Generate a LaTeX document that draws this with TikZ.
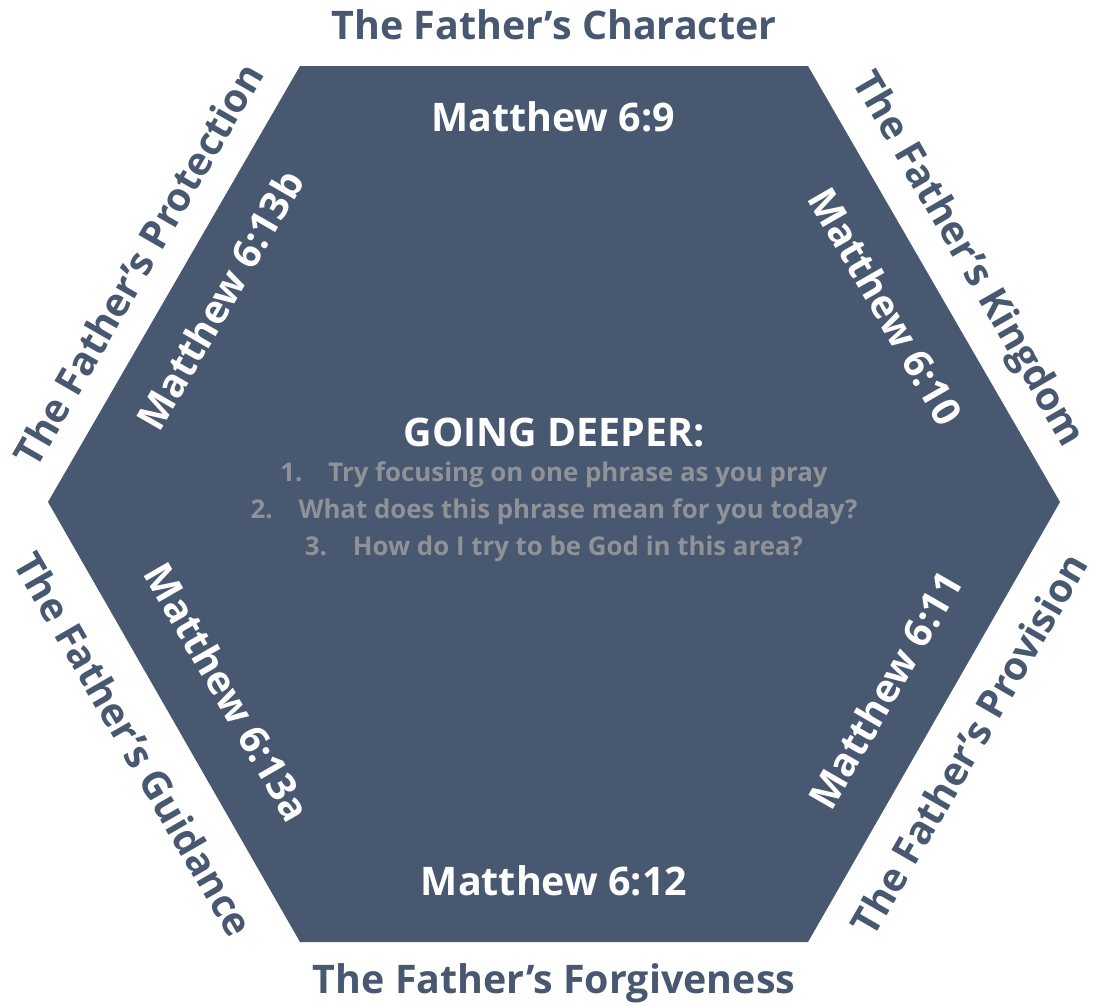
\documentclass[tikz,border=0pt]{standalone}
\usepackage{fontspec}
\setmainfont{Open Sans}
\usepackage{tikz}
\usetikzlibrary{positioning}

\definecolor{slateblue}{HTML}{475870}
\definecolor{listgray}{HTML}{8F9297}

\begin{document}
\begin{tikzpicture}[x=0.01cm, y=-0.01cm,
    outerlabel/.style={text=slateblue, font=\fontsize{11.2}{13}\selectfont\bfseries, inner sep=0pt},
    innerlabel/.style={text=white, font=\fontsize{11.2}{13}\selectfont\bfseries, inner sep=0pt}]
	\useasboundingbox (0,0) rectangle (1094,1005);

\fill [slateblue] (300,66) -- (808,66) -- (1060,502) -- (808,942) -- (300,942) -- (48,502) -- cycle;

% outside titles
\node (character)   [outerlabel]              at (554,25)  {The Father’s Character};
\node (kingdom)     [outerlabel, rotate=-60]  at (967,260) {The Father’s Kingdom};
\node (provision)   [outerlabel, rotate=60]   at (969,744) {The Father’s Provision};
\node (forgiveness) [outerlabel]              at (554,983) {The Father’s Forgiveness};
\node (guidance)    [outerlabel, rotate=-60]  at (134,744) {The Father’s Guidance};
\node (protection)  [outerlabel, rotate=60]   at (138,264) {The Father’s Protection};

% verses inside the hexagon
\node (verse9)   [innerlabel]              at (553,117) {Matthew 6:9};
\node (verse10)  [innerlabel, rotate=-60]  at (886,306) {Matthew 6:10};
\node (verse11)  [innerlabel, rotate=60]   at (885,690) {Matthew 6:11};
\node (verse12)  [innerlabel]              at (554,881) {Matthew 6:12};
\node (verse13a) [innerlabel, rotate=-60]  at (228,692) {Matthew 6:13a};
\node (verse13b) [innerlabel, rotate=60]   at (220,300) {Matthew 6:13b};

\node (deeper) [innerlabel] at (554,432) {GOING DEEPER:};
\node (questions) [below=4pt of deeper, text=listgray, align=center, inner sep=0pt,
      font=\fontsize{7.35}{10.5}\selectfont\bfseries]
      {1.\hspace{1em}Try focusing on one phrase as you pray\\
       2.\hspace{1em}What does this phrase mean for you today?\\
       3.\hspace{1em}How do I try to be God in this area?};

\end{tikzpicture}
\end{document}
